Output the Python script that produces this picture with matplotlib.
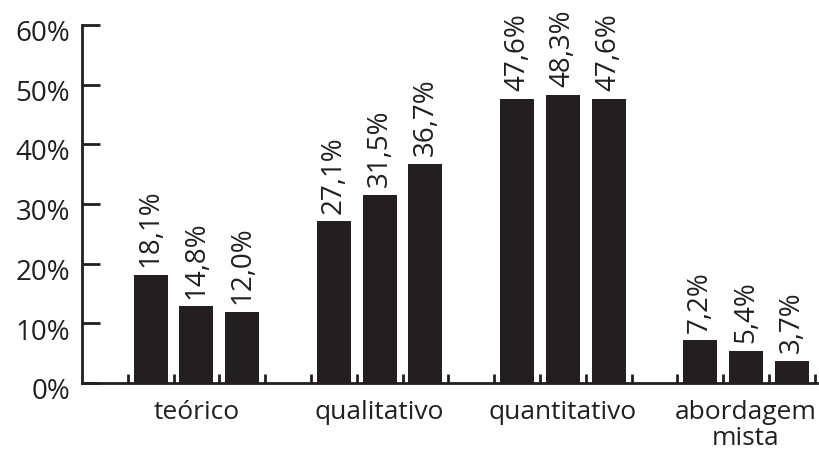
import matplotlib.pyplot as plt
from matplotlib.transforms import ScaledTranslation

# Categories and the three bars of every group.
CATEGORIES = ["teórico", "qualitativo", "quantitativo", "abordagem\nmista"]

# Bar heights (percent).
BAR_HEIGHTS = [
    [18.1, 12.9, 12.0],
    [27.1, 31.5, 36.7],
    [47.6, 48.3, 47.6],
    [7.2, 5.4, 3.7],
]

# Printed labels above each bar.
BAR_LABELS = [
    ["18,1%", "14,8%", "12,0%"],
    ["27,1%", "31,5%", "36,7%"],
    ["47,6%", "48,3%", "47,6%"],
    ["7,2%", "5,4%", "3,7%"],
]

Y_TICKS = [0, 10, 20, 30, 40, 50, 60]
Y_TICK_LABELS = ["0%", "10%", "20%", "30%", "40%", "50%", "60%"]

INK = "#231f20"
FONT = "Open Sans"
NUMBER_SIZE = 20
CATEGORY_SIZE = 19

# Each group takes 4 slots: one empty gap slot, then three bars.
SLOTS_PER_GROUP = 4
BAR_WIDTH = 0.74


def plot_chart():
    plt.rcParams["font.family"] = [FONT, "DejaVu Sans"]
    figure = plt.figure(figsize=(8.19, 4.54), dpi=100)
    axis = figure.add_axes([0.1, 0.156, 0.8976, 0.789])

    for group_index, (heights, labels) in enumerate(zip(BAR_HEIGHTS, BAR_LABELS)):
        for bar_index, (height, label) in enumerate(zip(heights, labels)):
            x = group_index * SLOTS_PER_GROUP + 1 + bar_index + 0.5
            axis.bar(x, height, width=BAR_WIDTH, color=INK, linewidth=0)
            axis.annotate(
                label,
                xy=(x, height),
                xytext=(0, 5.5),
                textcoords="offset points",
                rotation=90,
                ha="center",
                va="bottom",
                fontsize=NUMBER_SIZE,
                color=INK,
            )

        # Category name below the group, centred on its three bars.
        axis.annotate(
            CATEGORIES[group_index],
            xy=(group_index * SLOTS_PER_GROUP + 2.5, 0),
            xytext=(0, -12),
            textcoords="offset points",
            ha="center",
            va="top",
            fontsize=CATEGORY_SIZE,
            color=INK,
            linespacing=1.05,
            annotation_clip=False,
        )

    total_slots = SLOTS_PER_GROUP * len(CATEGORIES)
    axis.set_xlim(0, total_slots + 0.05)
    axis.set_ylim(0, 60)

    # Small ticks at every slot boundary, pointing up.
    axis.set_xticks(range(1, total_slots + 1))
    axis.set_xticklabels([])
    axis.tick_params(axis="x", direction="in", length=6.5, width=2, color=INK)

    axis.set_yticks(Y_TICKS)
    axis.set_yticklabels(Y_TICK_LABELS, fontsize=NUMBER_SIZE, color=INK)
    axis.tick_params(axis="y", direction="in", length=13, width=2, color=INK, pad=8.5)
    offset = ScaledTranslation(0, -4 / 72, figure.dpi_scale_trans)
    for label in axis.get_yticklabels():
        label.set_transform(label.get_transform() + offset)

    for side in ["top", "right"]:
        axis.spines[side].set_visible(False)
    for side in ["left", "bottom"]:
        axis.spines[side].set_linewidth(2)
        axis.spines[side].set_color(INK)

    figure.savefig("out.png", dpi=100)
    plt.close(figure)


if __name__ == "__main__":
    plot_chart()
